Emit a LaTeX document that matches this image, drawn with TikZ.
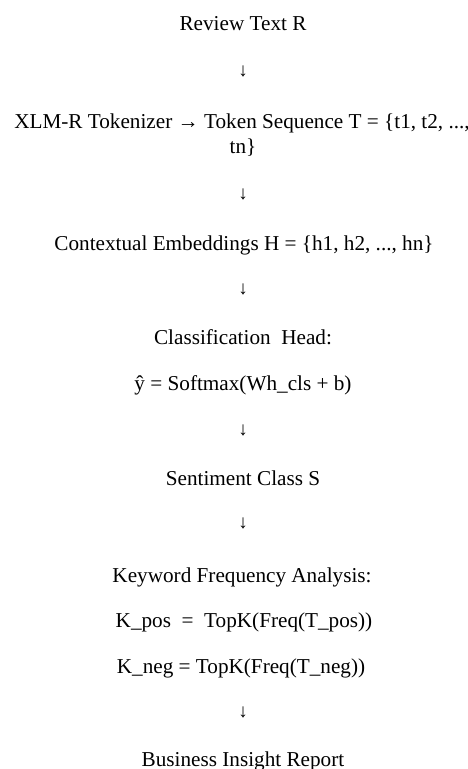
\documentclass[tikz,border=0pt]{standalone}
\usepackage{fontspec}
\setmainfont{Liberation Serif}
\begin{document}
\begin{tikzpicture}[x=1pt,y=1pt,
  txt/.style={inner sep=0pt, anchor=base, font=\fontsize{21.2}{25}\selectfont},
  arr/.style={inner sep=0pt, anchor=center, font=\fontsize{19}{23}\selectfont}]
\useasboundingbox (0,0) rectangle (468,-769);
\node[txt] (review) at (243,-30.7) {Review Text R};
\node[arr] (a1) at (243,-71) {↓};
\node[txt] (tok1) at (242,-128) {XLM-R Tokenizer → Token Sequence T = \{t1, t2, ...,};
\node[txt] (tok2) at (243,-153) {tn\}};
\node[arr] (a2) at (243,-194) {↓};
\node[txt] (emb) at (244,-250) {Contextual Embeddings H = \{h1, h2, ..., hn\}};
\node[arr] (a3) at (243,-289) {↓};
\node[txt] (head) at (243,-344) {Classification\ \ Head:};
\node[txt] (soft) at (243,-390) {ŷ = Softmax(Wh\_cls + b)};
\node[arr] (a4) at (243,-430) {↓};
\node[txt] (sent) at (243,-485) {Sentiment Class S};
\node[arr] (a5) at (243,-523) {↓};
\node[txt] (kw) at (242,-582) {Keyword Frequency Analysis:};
\node[txt] (kpos) at (244,-627) {K\_pos\ \ =\ \ TopK(Freq(T\_pos))};
\node[txt] (kneg) at (241,-673) {K\_neg = TopK(Freq(T\_neg))};
\node[arr] (a6) at (243,-712) {↓};
\node[txt] (biz) at (243,-766) {Business Insight Report};
\end{tikzpicture}
\end{document}
